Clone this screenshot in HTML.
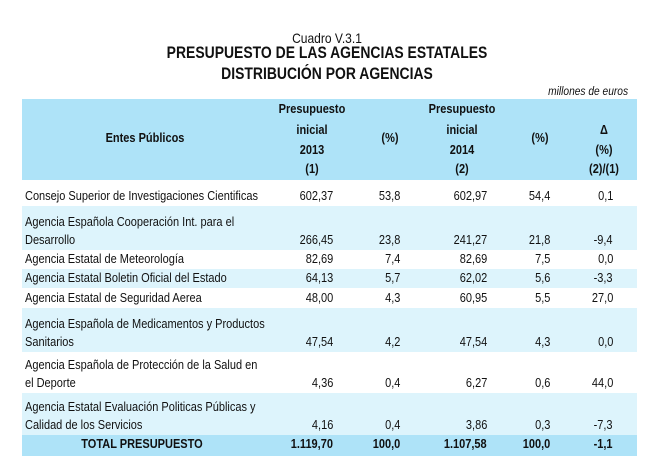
<!DOCTYPE html>
<html><head><meta charset="utf-8">
<style>
body{margin:0;width:654px;height:466px;background:#fff;position:relative;overflow:hidden;font-family:"Liberation Sans",sans-serif;color:#111}
.t{position:absolute;white-space:nowrap;transform-origin:0 50%;line-height:1}
.bg{position:absolute;left:22px;width:615px}
</style></head><body>
<div class="t" style="left:0;width:654px;top:31px;font-size:14px;text-align:center;transform:scaleX(0.86);transform-origin:50% 50%">Cuadro V.3.1</div>
<div class="t" style="left:0;width:654px;top:44px;font-size:17px;font-weight:bold;text-align:center;transform:scaleX(0.82);transform-origin:50% 50%">PRESUPUESTO DE LAS AGENCIAS ESTATALES</div>
<div class="t" style="left:0;width:654px;top:65px;font-size:17px;font-weight:bold;text-align:center;transform:scaleX(0.82);transform-origin:50% 50%">DISTRIBUCIÓN POR AGENCIAS</div>
<div class="t" style="right:26px;top:85px;font-size:12px;font-style:italic;transform:scaleX(0.85);transform-origin:100% 50%">millones de euros</div>
<div class="bg" style="top:99px;height:81px;background:#aee3f8"></div>
<div id="tbl"></div>
<script>
const names=[["Consejo Superior de Investigaciones Cientificas"],["Agencia Española Cooperación Int. para el","Desarrollo"],["Agencia Estatal de Meteorología"],["Agencia Estatal Boletin Oficial del Estado"],["Agencia Estatal de Seguridad Aerea"],["Agencia Española de Medicamentos y Productos","Sanitarios"],["Agencia Española de Protección de la Salud en","el Deporte"],["Agencia Estatal Evaluación Politicas Públicas y","Calidad de los Servicios"]];
const budget2013=["602,37","266,45","82,69","64,13","48,00","47,54","4,36","4,16"];
const pct2013=["53,8","23,8","7,4","5,7","4,3","4,2","0,4","0,4"];
const budget2014=["602,97","241,27","82,69","62,02","60,95","47,54","6,27","3,86"];
const pct2014=["54,4","21,8","7,5","5,6","5,5","4,3","0,6","0,3"];
const change=["0,1","-9,4","0,0","-3,3","27,0","0,0","44,0","-7,3"];
const total=["1.119,70","100,0","1.107,58","100,0","-1,1"];
const rowTops=[183,206,250,269,288,308,352,393,435];
const rowHeights=[23,44,19,19,20,44,41,42,21];
const colRight=[333,400,487,550,613];
const root=document.getElementById('tbl');
function txt(s,x,y,opt){const d=document.createElement('div');d.className='t';d.textContent=s;d.style.top=(y-7)+'px';d.style.fontSize=(opt.fs||12.5)+'px';if(opt.bold)d.style.fontWeight='bold';
 if(opt.align==='right'){d.style.right=(654-x)+'px';d.style.transformOrigin='100% 50%';}
 else if(opt.align==='center'){d.style.left=(x-100)+'px';d.style.width='200px';d.style.textAlign='center';d.style.transformOrigin='50% 50%';}
 else d.style.left=x+'px';
 d.style.transform='scaleX('+(opt.sx||0.88)+')';root.appendChild(d);return d;}
const hdr=[["Presupuesto","inicial","2013","(1)"],["(%)"],["Presupuesto","inicial","2014","(2)"],["(%)"],["Δ","(%)","(2)/(1)"]];
const hcent=[312,390,462,540,604];
let e=txt("Entes Públicos",145,139,{bold:true,align:'center'});


hdr.forEach((h,i)=>{const ys=h.length===1?[139]:h.length===3?[131,151,170]:[110,131,151,170];
 h.forEach((s,j)=>{const d=txt(s,hcent[i],ys[j],{bold:true,align:'center'});
 
 });});
names.forEach((n,i)=>{
 const top=rowTops[i],h=rowHeights[i];
 const bg=document.createElement('div');bg.className='bg';bg.style.top=top+'px';bg.style.height=h+'px';bg.style.background=i%2?'#ddf4fc':'#fff';
 
 
 root.appendChild(bg);
 const last=top+h-9;
 n.forEach((s,j)=>{const d=txt(s,25,n.length===2?(j?last:last-18):last,{});
 
 });
 [budget2013[i],pct2013[i],budget2014[i],pct2014[i],change[i]].forEach((v,k)=>{const d=txt(v,colRight[k],last,{align:'right'});
 
 });
});
const tb=document.createElement('div');tb.className='bg';tb.style.top=rowTops[8]+'px';tb.style.height=rowHeights[8]+'px';tb.style.background='#aee3f8';


root.appendChild(tb);
const ty=rowTops[8]+10;
let tl=txt("TOTAL PRESUPUESTO",142,ty,{bold:true,align:'center'});


total.forEach((v,k)=>{const d=txt(v,colRight[k],ty,{bold:true,align:'right'});
 
 });
</script>
</body></html>
